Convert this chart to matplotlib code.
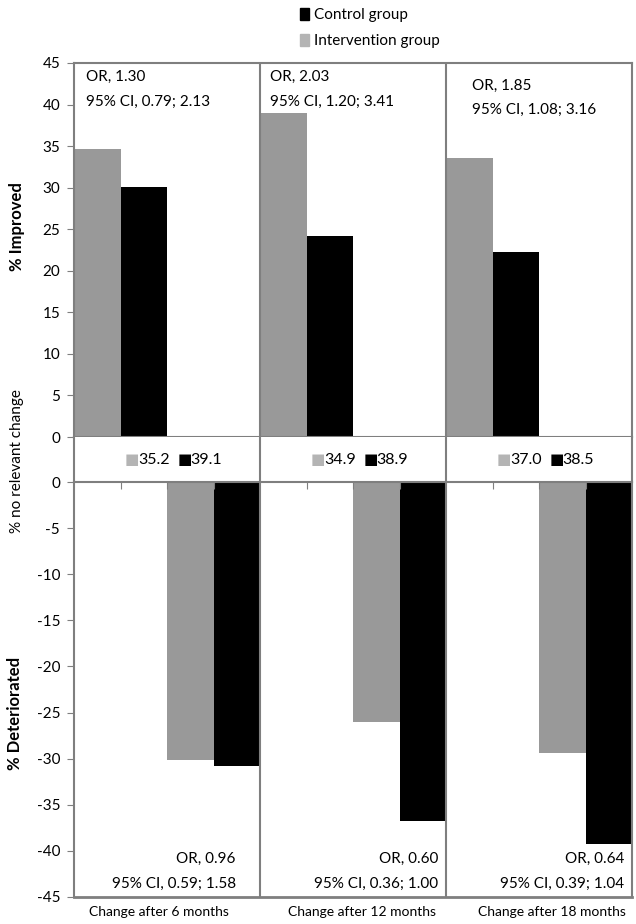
import matplotlib.pyplot as plt
from matplotlib.patches import Patch

plt.rcParams['font.family'] = ['Lato', 'DejaVu Sans']
plt.rcParams['axes.unicode_minus'] = False

# data
periods = ['Change after 6 months', 'Change after 12 months', 'Change after 18 months']
improved_intervention = [34.6, 39.0, 33.6]
improved_control = [30.1, 24.2, 22.3]
deteriorated_intervention = [-30.1, -26.0, -29.4]
deteriorated_control = [-30.8, -36.8, -39.2]
no_change_intervention = ['35.2', '34.9', '37.0']
no_change_control = ['39.1', '38.9', '38.5']
or_improved = [('OR, 1.30', '95% CI, 0.79; 2.13'),
               ('OR, 2.03', '95% CI, 1.20; 3.41'),
               ('OR, 1.85', '95% CI, 1.08; 3.16')]
or_deteriorated = [('OR, 0.96', '95% CI, 0.59; 1.58'),
                   ('OR, 0.60', '95% CI, 0.36; 1.00'),
                   ('OR, 0.64', '95% CI, 0.39; 1.04')]

gray = '#999999'
light_gray = '#b4b4b4'
frame = '#7f7f7f'

fig = plt.figure(figsize=(6.36, 9.24), dpi=100)
left, width = 74 / 636, 558 / 636
ax_top = fig.add_axes([left, 1 - 437 / 924, width, 374 / 924])
ax_mid = fig.add_axes([left, 1 - 482 / 924, width, 45 / 924])
ax_bot = fig.add_axes([left, 1 - 897 / 924, width, 415 / 924])

x = range(len(periods))
w = 0.25
ax_top.bar([i + 0.125 for i in x], improved_intervention, width=w, color=gray)
ax_top.bar([i + 0.375 for i in x], improved_control, width=w, color='black')
ax_bot.bar([i + 0.625 for i in x], deteriorated_intervention, width=w, color=gray)
ax_bot.bar([i + 0.875 for i in x], deteriorated_control, width=w, color='black')

ticks = [i + f for i in x for f in (0.25, 0.5, 0.75)]
for ax in (ax_top, ax_mid, ax_bot):
    ax.set_xlim(0, 3)
    for s in ax.spines.values():
        s.set_color(frame)
        s.set_linewidth(1.5)
    for d in (1, 2):
        ax.axvline(d, color=frame, lw=1.5)

ax_top.set_ylim(0, 45)
ax_top.set_yticks(range(0, 46, 5))
ax_top.set_xticks(ticks)
ax_top.set_xticklabels([])
ax_top.tick_params(axis='x', direction='out', length=5, color=frame)

ax_bot.set_ylim(-45, 0)
ax_bot.set_yticks(range(-45, 1, 5))
ax_bot.set_xticks(ticks)
ax_bot.set_xticklabels([])
ax_bot.xaxis.set_ticks_position('top')
ax_bot.tick_params(axis='x', direction='in', length=5, color=frame)
ax_bot.spines['bottom'].set_linewidth(2)

for ax in (ax_top, ax_bot):
    ax.tick_params(axis='y', labelsize=11, length=5, color=frame, pad=5)

ax_mid.set_ylim(0, 1)
ax_mid.set_xticks([])
ax_mid.set_yticks([])
ax_mid.spines['top'].set_visible(False)
ax_mid.spines['bottom'].set_visible(False)

for i in x:
    c = i + 0.5
    ax_mid.annotate('■', (c, 0.5), xytext=(-25, 0), textcoords='offset points',
                    ha='center', va='center', fontsize=11, color=light_gray)
    ax_mid.annotate(no_change_intervention[i], (c, 0.5), xytext=(-21, 0), textcoords='offset points',
                    ha='left', va='center', fontsize=11.5)
    ax_mid.annotate('■', (c, 0.5), xytext=(13, 0), textcoords='offset points',
                    ha='center', va='center', fontsize=11, color='black')
    ax_mid.annotate(no_change_control[i], (c, 0.5), xytext=(17, 0), textcoords='offset points',
                    ha='left', va='center', fontsize=11.5)

# odds ratio boxes
top_dx = [0.065, 0.054, 0.14]
for i, (a, b) in enumerate(or_improved):
    y1 = 43.3 if i < 2 else 42.3
    ax_top.text(i + top_dx[i], y1, a, ha='left', va='center', fontsize=11)
    ax_top.text(i + top_dx[i], y1 - 3.0, b, ha='left', va='center', fontsize=11)
bot_dx = [0.87, 0.96, 0.96]
for i, (a, b) in enumerate(or_deteriorated):
    ax_bot.text(i + bot_dx[i], -40.9, a, ha='right', va='center', fontsize=11)
    ax_bot.text(i + bot_dx[i], -43.6, b, ha='right', va='center', fontsize=11)

label_x = [159, 362, 552]
for p, lx in zip(periods, label_x):
    fig.text(lx / 636, 1 - 912 / 924, p, ha='center', va='center', fontsize=10)

fig.text(17 / 636, 1 - 227 / 924, '% Improved', rotation=90, ha='center', va='center',
         fontsize=12, fontweight='bold')
fig.text(15 / 636, 1 - 713 / 924, '% Deteriorated', rotation=90, ha='center', va='center',
         fontsize=12, fontweight='bold')
fig.text(17 / 636, 1 - 461 / 924, '% no relevant change', rotation=90, ha='center', va='center',
         fontsize=11)

handles = [Patch(color='black', label='Control group'),
           Patch(color=light_gray, label='Intervention group')]
fig.legend(handles=handles, loc='upper left', bbox_to_anchor=(286 / 636, 1.006), frameon=False,
           fontsize=11, handlelength=0.6, handleheight=0.8, handletextpad=0.3, labelspacing=0.75)

fig.savefig('out.png', dpi=100)
